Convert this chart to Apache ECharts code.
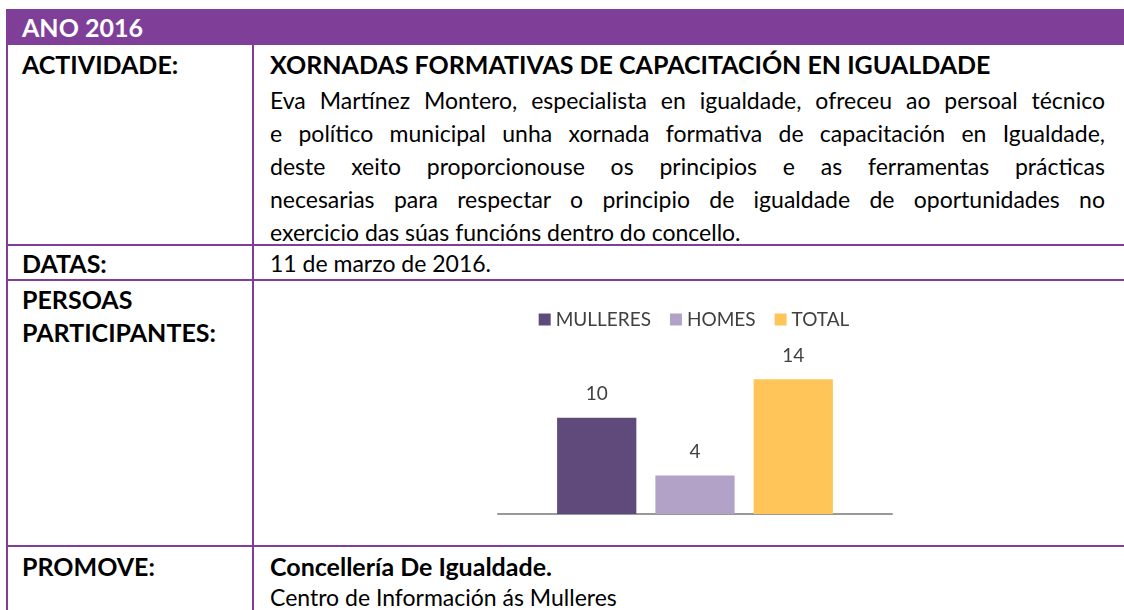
<!DOCTYPE html>
<html>
<head>
<meta charset="utf-8">
<script src="https://cdn.jsdelivr.net/npm/echarts@6/dist/echarts.min.js"></script>
<style>
  body { margin: 0; background: #fff; }
  #page { position: relative; width: 1124px; height: 610px; overflow: hidden; font-family: Lato, "Noto Sans", sans-serif; color: #000; }
  .ln { position: absolute; background: #7F3F98; }
  .txt { position: absolute; font-size: 23px; line-height: 33px; white-space: nowrap; }
  .b { font-weight: bold; font-size: 25px; }
  .just { text-align: justify; text-align-last: justify; white-space: normal; }
  #chart { position: absolute; left: 466px; top: 283px; width: 456px; height: 255px; }
</style>
</head>
<body>
<div id="page">
  <!-- cabeceira morada -->
  <div class="ln" style="left:6px;top:9px;width:1118px;height:36px;"></div>
  <div class="txt b" style="left:22px;top:11px;color:#fff;">ANO 2016</div>

  <!-- liñas da táboa -->
  <div class="ln" style="left:6px;top:9px;width:2px;height:601px;"></div>
  <div class="ln" style="left:252px;top:45px;width:2px;height:565px;"></div>
  <div class="ln" style="left:6px;top:244px;width:1118px;height:2px;"></div>
  <div class="ln" style="left:6px;top:279px;width:1118px;height:2px;"></div>
  <div class="ln" style="left:6px;top:545px;width:1118px;height:2px;"></div>

  <!-- ACTIVIDADE -->
  <div class="txt b" style="left:22px;top:48px;">ACTIVIDADE:</div>
  <div class="txt b" style="left:270px;top:48px;">XORNADAS FORMATIVAS DE CAPACITACIÓN EN IGUALDADE</div>
  <div class="txt just" style="left:270px;top:84px;width:835px;">Eva Martínez Montero, especialista en igualdade, ofreceu ao persoal técnico</div>
  <div class="txt just" style="left:270px;top:117px;width:835px;">e político municipal unha xornada formativa de capacitación en Igualdade,</div>
  <div class="txt just" style="left:270px;top:150px;width:835px;">deste xeito proporcionouse os principios e as ferramentas prácticas</div>
  <div class="txt just" style="left:270px;top:183px;width:835px;">necesarias para respectar o principio de igualdade de oportunidades no</div>
  <div class="txt" style="left:270px;top:216px;">exercicio das súas funcións dentro do concello.</div>

  <!-- DATAS -->
  <div class="txt b" style="left:22px;top:247px;">DATAS:</div>
  <div class="txt" style="left:270px;top:247px;">11 de marzo de 2016.</div>

  <!-- PERSOAS PARTICIPANTES -->
  <div class="txt b" style="left:22px;top:283px;">PERSOAS<br>PARTICIPANTES:</div>
  <div id="chart"></div>

  <!-- PROMOVE -->
  <div class="txt b" style="left:22px;top:550px;">PROMOVE:</div>
  <div class="txt b" style="left:270px;top:550px;">Concellería De Igualdade.</div>
  <div class="txt" style="left:270px;top:585px;line-height:25px;">Centro de Información ás Mulleres</div>
</div>

<script>
// datos do gráfico (persoas participantes)
const categories = [""];
const seriesNames = ["MULLERES", "HOMES", "TOTAL"];
const mulleres = [10];
const homes = [4];
const total = [14];
const seriesColors = ["#604A7B", "#B3A2C7", "#FFC559"];

const chart = echarts.init(document.getElementById("chart"));
const seriesData = [mulleres, homes, total];

const option = {
  animation: false,
  textStyle: { fontFamily: "Lato, 'Noto Sans', sans-serif" },
  legend: {
    top: 22,
    left: "center",
    icon: "rect",
    itemWidth: 12,
    itemHeight: 12,
    itemGap: 19,
    textStyle: { fontSize: 19, color: "#404040" },
    data: seriesNames,
  },
  grid: { left: 32, right: 30, top: 77, bottom: 24 },
  xAxis: {
    type: "category",
    data: categories,
    axisLine: { lineStyle: { color: "#999999", width: 2 } },
    axisTick: { show: false },
    axisLabel: { show: false },
  },
  yAxis: {
    type: "value",
    min: 0,
    max: 16,
    show: false,
    splitLine: { show: false },
  },
  series: seriesNames.map((name, i) => ({
    name: name,
    type: "bar",
    data: seriesData[i],
    barGap: "24%",
    barCategoryGap: "30%",
    itemStyle: { color: seriesColors[i] },
    label: {
      show: true,
      position: "top",
      distance: 14,
      fontSize: 19,
      color: "#404040",
    },
  })),
};
chart.setOption(option);
</script>
</body>
</html>
